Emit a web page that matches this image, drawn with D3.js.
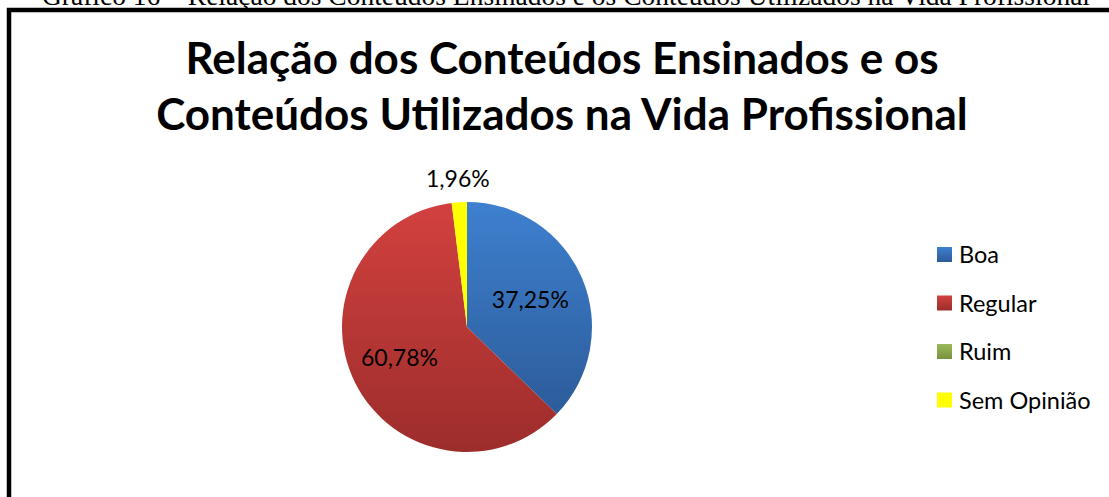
<!DOCTYPE html>
<html>
<head>
<meta charset="utf-8">
<script src="https://cdn.jsdelivr.net/npm/d3@7"></script>
<style>
  body { margin: 0; background: #fff; }
  svg { display: block; }
</style>
</head>
<body>
<div id="chart"></div>
<script>
const categories = ["Boa", "Regular", "Ruim", "Sem Opinião"];
const values = [37.25, 60.78, 0, 1.96];
const labels = ["37,25%", "60,78%", "", "1,96%"];
const colorsTop = ["#3e80cf", "#d2413f", "#9bbb59", "#ffff00"];
const colorsBottom = ["#2c5c9a", "#9c2d2b", "#77923f", "#ffff00"];
const titleLines = ["Relação dos Conteúdos Ensinados e os", "Conteúdos Utilizados na Vida Profissional"];
const caption = "Gráfico 16 – Relação dos Conteúdos Ensinados e os Conteúdos Utilizados na Vida Profissional";

const width = 1109;
const height = 497;

const svg = d3.select("#chart")
  .append("svg")
  .attr("width", width)
  .attr("height", height);

const defs = svg.append("defs");
categories.forEach((c, i) => {
  const g = defs.append("linearGradient")
    .attr("id", "grad" + i)
    .attr("x1", 0).attr("y1", 0)
    .attr("x2", 0).attr("y2", 1);
  g.append("stop").attr("offset", "0%").attr("stop-color", colorsTop[i]);
  g.append("stop").attr("offset", "100%").attr("stop-color", colorsBottom[i]);
});

// caption above the frame (page top clips it, as in the source)
svg.append("text")
  .attr("x", 566)
  .attr("y", 5)
  .attr("text-anchor", "middle")
  .attr("font-family", "Liberation Serif")
  .attr("font-size", 27.5)
  .text(caption);

// chart frame
svg.append("rect")
  .attr("x", 9)
  .attr("y", 10)
  .attr("width", 1300)
  .attr("height", 700)
  .attr("fill", "none")
  .attr("stroke", "#000")
  .attr("stroke-width", 4.5);

// title
svg.append("g")
  .selectAll("text")
  .data(titleLines)
  .enter()
  .append("text")
  .attr("x", 562)
  .attr("y", (d, i) => 74 + i * 56)
  .attr("text-anchor", "middle")
  .attr("font-family", "Lato")
  .attr("font-weight", "bold")
  .attr("font-size", 44)
  .text(d => d);

// pie
const cx = 467, cy = 327, r = 125;
const pie = d3.pie().sort(null).value(d => d);
const arcs = pie(values);
const arc = d3.arc().innerRadius(0).outerRadius(r);

const pg = svg.append("g").attr("transform", `translate(${cx},${cy})`);
pg.selectAll("path")
  .data(arcs.filter(d => d.data > 0))
  .enter()
  .append("path")
  .attr("d", arc)
  .attr("fill", d => "url(#grad" + d.index + ")");

// data labels
const inner = d3.arc().innerRadius(r * 0.55).outerRadius(r * 0.55);
const outer = d3.arc().innerRadius(r * 1.19).outerRadius(r * 1.19);
pg.selectAll("text")
  .data(arcs.filter(d => labels[d.index] !== ""))
  .enter()
  .append("text")
  .attr("x", d => (d.index === 3 ? outer : inner).centroid(d)[0] + (d.index === 1 ? -6 : 0))
  .attr("y", d => (d.index === 3 ? outer : inner).centroid(d)[1])
  .attr("dy", "0.35em")
  .attr("text-anchor", "middle")
  .attr("font-family", "Lato")
  .attr("font-size", 23)
  .attr("fill", "#000")
  .text(d => labels[d.index]);

// legend
const legend = svg.append("g")
  .attr("transform", "translate(937,247)");
const item = legend.selectAll("g")
  .data(categories)
  .enter()
  .append("g")
  .attr("transform", (d, i) => `translate(0,${i * 48.5})`);
item.append("rect")
  .attr("width", 15)
  .attr("height", 15)
  .attr("fill", (d, i) => "url(#grad" + i + ")");
item.append("text")
  .attr("x", 22)
  .attr("y", 16)
  .attr("font-family", "Lato")
  .attr("font-size", 23.5)
  .attr("fill", "#000")
  .text(d => d);
</script>
</body>
</html>
